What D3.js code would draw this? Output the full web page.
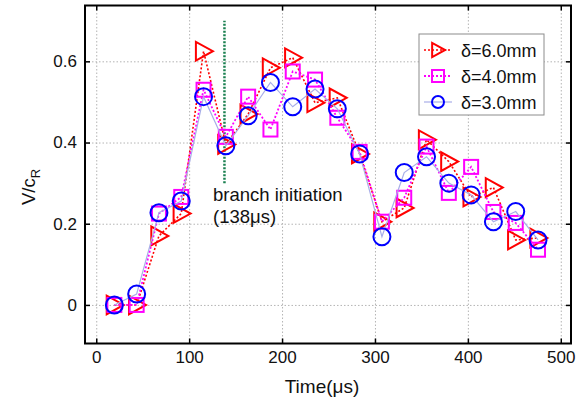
<!DOCTYPE html>
<html>
<head>
<meta charset="utf-8">
<script src="https://cdn.jsdelivr.net/npm/d3@7"></script>
<style>
  html, body { margin: 0; padding: 0; background: #fff; }
  svg { display: block; font-family: "Liberation Sans", Arial, Helvetica, sans-serif; }
</style>
</head>
<body>
<svg id="chart" width="588" height="401"></svg>
<script>
// ---- data ----
const times = [19.5, 43.5, 67.5, 91.5, 115.5, 139.5, 163.5, 187.5, 211.5, 235.5,
               259.5, 283.5, 307.5, 331.5, 355.5, 379.5, 403.5, 427.5, 451.5, 475.5];
const delta6 = [0, 0, 0.17, 0.225, 0.625, 0.395, 0.47, 0.584, 0.609, 0.498,
                0.51, 0.372, 0.205, 0.239, 0.407, 0.353, 0.266, 0.289, 0.16, 0.165];
const delta4 = [0, 0, 0.225, 0.266, 0.53, 0.414, 0.513, 0.432, 0.575, 0.555,
                0.461, 0.377, 0.205, 0.264, 0.39, 0.276, 0.34, 0.229, 0.202, 0.136];
const delta3 = [0, 0.027, 0.227, 0.256, 0.513, 0.392, 0.466, 0.548, 0.488, 0.532,
                0.483, 0.372, 0.168, 0.326, 0.365, 0.30, 0.271, 0.205, 0.23, 0.16];
const seriesNames = ["\u03B4=6.0mm", "\u03B4=4.0mm", "\u03B4=3.0mm"];
const xTicks = [0, 100, 200, 300, 400, 500];
const yTicks = [0, 0.2, 0.4, 0.6];
const branchTime = 138;
const branchRange = [0.3, 0.7];
const annotation = ["branch initiation", "(138\u03BCs)"];

// ---- layout ----
const L = 85, R = 571, T = 5.5, B = 343.5;
const svg = d3.select("#chart");
const x = d3.scaleLinear().domain([-12.1, 511]).range([L, R]);
const y = d3.scaleLinear().domain([-0.095, 0.7375]).range([B, T]);
const W = R - L, H = B - T;

// grid
const gx = svg.append("g").attr("transform", `translate(0,${B})`)
  .call(d3.axisBottom(x).tickValues(xTicks).tickSize(-H).tickFormat(""));
const gy = svg.append("g").attr("transform", `translate(${L},0)`)
  .call(d3.axisLeft(y).tickValues(yTicks).tickSize(-W).tickFormat(""));
[gx, gy].forEach(g => {
  g.select(".domain").remove();
  g.selectAll("line").attr("stroke", "#b4b4b4").attr("stroke-width", 1).attr("stroke-dasharray", "1.5,2");
});

// branch initiation line
svg.append("line")
  .attr("x1", x(branchTime)).attr("x2", x(branchTime))
  .attr("y1", y(branchRange[0])).attr("y2", y(branchRange[1]))
  .attr("stroke", "#1a8050").attr("stroke-width", 2.5).attr("stroke-dasharray", "2,1.5");

svg.append("text").attr("x", 213).attr("y", 201).attr("font-size", 18.5).attr("fill", "#111").text(annotation[0]);
svg.append("text").attr("x", 213).attr("y", 223).attr("font-size", 18.5).attr("fill", "#111").text(annotation[1]);

// series
const trianglePath = s => `M${-0.45*s},${-0.55*s}L${-0.45*s},${0.55*s}L${0.55*s},0Z`;
const series = [
  { name: seriesNames[0], vals: delta6, line: "#ff0000", lw: 1.6, dash: "2,2", mark: "tri", mcol: "#ff0000" },
  { name: seriesNames[1], vals: delta4, line: "#ff00ff", lw: 1.8, dash: "2,2", mark: "sq", mcol: "#ff00ff" },
  { name: seriesNames[2], vals: delta3, line: "#a8aee8", lw: 1.2, dash: null, mark: "circ", mcol: "#0000ff" }
];

function drawMarker(g, type, col, cx, cy, s) {
  if (type === "tri") {
    g.append("path").attr("d", trianglePath(s)).attr("transform", `translate(${cx},${cy})`)
      .attr("fill", "none").attr("stroke", col).attr("stroke-width", 2);
  } else if (type === "sq") {
    g.append("rect").attr("x", cx - s/2).attr("y", cy - s/2).attr("width", s).attr("height", s)
      .attr("fill", "none").attr("stroke", col).attr("stroke-width", 2);
  } else {
    g.append("circle").attr("cx", cx).attr("cy", cy).attr("r", s/2)
      .attr("fill", "none").attr("stroke", col).attr("stroke-width", 2);
  }
}

const line = d3.line().x(d => x(d[0])).y(d => y(d[1]));
series.forEach(s => {
  const pts = times.map((t, i) => [t, s.vals[i]]);
  const g = svg.append("g");
  g.append("path").attr("d", line(pts)).attr("fill", "none")
    .attr("stroke", s.line).attr("stroke-width", s.lw)
    .attr("stroke-dasharray", s.dash);
  const size = s.mark === "tri" ? 17 : (s.mark === "sq" ? 14 : 17);
  pts.forEach(p => drawMarker(g, s.mark, s.mcol, x(p[0]), y(p[1]), size));
});

// frame
svg.append("rect").attr("x", L).attr("y", T).attr("width", W).attr("height", H)
  .attr("fill", "none").attr("stroke", "#000").attr("stroke-width", 2);

// axes (inward ticks)
const ax = svg.append("g").attr("transform", `translate(0,${B})`)
  .call(d3.axisBottom(x).tickValues(xTicks).tickSizeInner(-5).tickSizeOuter(0).tickPadding(7.5));
const axTop = svg.append("g").attr("transform", `translate(0,${T})`)
  .call(d3.axisTop(x).tickValues(xTicks).tickSizeInner(-5).tickSizeOuter(0).tickFormat(""));
const ay = svg.append("g").attr("transform", `translate(${L},0)`)
  .call(d3.axisLeft(y).tickValues(yTicks).tickSizeInner(-5).tickSizeOuter(0).tickPadding(8).tickFormat(d => d === 0 ? "0" : d3.format(".1f")(d)));
const ayR = svg.append("g").attr("transform", `translate(${R},0)`)
  .call(d3.axisRight(y).tickValues(yTicks).tickSizeInner(-5).tickSizeOuter(0).tickFormat(""));
[ax, axTop, ay, ayR].forEach(g => {
  g.select(".domain").remove();
  g.selectAll("line").attr("stroke", "#000").attr("stroke-width", 1.5);
  g.selectAll("text").attr("font-size", 17).attr("fill", "#111")
    .attr("font-family", "'Liberation Sans', Arial, sans-serif");
});

// axis titles
svg.append("text").attr("x", 322).attr("y", 393).attr("text-anchor", "middle")
  .attr("font-size", 19).attr("fill", "#111").text("Time(\u03BCs)");
const yl = svg.append("text").attr("transform", "translate(35,187) rotate(-90)")
  .attr("text-anchor", "middle").attr("font-size", 18.5).attr("fill", "#111");
yl.append("tspan").text("V/c");
yl.append("tspan").attr("font-size", 13).attr("dy", 5).text("R");

// legend
const lg = svg.append("g");
lg.append("rect").attr("x", 419).attr("y", 34).attr("width", 125).attr("height", 81)
  .attr("fill", "#fff").attr("stroke", "#8c8c8c").attr("stroke-width", 1);
series.forEach((s, i) => {
  const cy = 50 + i * 26;
  lg.append("line").attr("x1", 424).attr("x2", 452).attr("y1", cy).attr("y2", cy)
    .attr("stroke", s.line).attr("stroke-width", s.lw).attr("stroke-dasharray", s.dash);
  const size = s.mark === "tri" ? 13 : 12;
  drawMarker(lg, s.mark, s.mcol, 438, cy, size);
  lg.append("text").attr("x", 461).attr("y", cy + 6.5).attr("font-size", 18).attr("fill", "#111").text(s.name);
});
</script>
</body>
</html>
